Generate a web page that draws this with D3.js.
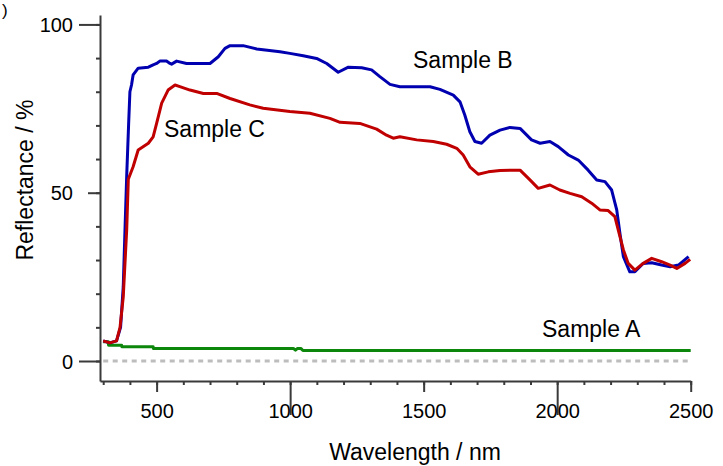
<!DOCTYPE html>
<html>
<head>
<meta charset="utf-8">
<script src="https://cdn.jsdelivr.net/npm/d3@7"></script>
<style>
  body { margin: 0; background: #fff; }
  svg { display: block; font-family: "Liberation Sans", Arial, sans-serif; }
</style>
</head>
<body>
<svg id="chart" width="723" height="466"></svg>
<script>
// Sample B (blue)
const wlB = [300, 325, 350, 365, 375, 382, 388, 395, 400, 406, 412, 431, 469, 487, 500, 512, 537, 550, 556, 575, 612, 650, 700, 731, 756, 775, 824, 875, 962, 999, 1049, 1099, 1137, 1180, 1218, 1268, 1305, 1336, 1374, 1411, 1524, 1561, 1611, 1636, 1654, 1673, 1692, 1717, 1748, 1786, 1823, 1861, 1904, 1936, 1973, 2004, 2042, 2079, 2116, 2148, 2179, 2204, 2223, 2235, 2248, 2272, 2291, 2322, 2354, 2391, 2423, 2454, 2492];
const rB = [6.0, 5.4, 6.0, 10, 22, 40, 55, 70, 80, 82, 85, 87, 87.3, 88, 88.4, 89.1, 89.1, 88.4, 88.2, 89.1, 88.4, 88.4, 88.4, 90.4, 92.9, 93.7, 93.7, 92.7, 91.9, 91.4, 90.7, 89.9, 88.4, 85.8, 87.3, 87.1, 86.5, 84.5, 82.2, 81.5, 81.5, 80.7, 79, 77, 73.1, 68.1, 65.2, 64.7, 67.1, 68.6, 69.4, 69.1, 65.7, 64.7, 65.2, 63.7, 61.2, 59.7, 56.7, 53.8, 53.3, 50.8, 44.9, 37.9, 31, 26.5, 26.5, 29, 29.2, 28.5, 28, 28.5, 31];

// Sample C (red)
const wlC = [300, 325, 350, 363, 375, 388, 394, 412, 431, 469, 487, 500, 519, 543, 569, 587, 625, 675, 725, 775, 849, 899, 999, 1074, 1149, 1187, 1261, 1324, 1361, 1386, 1411, 1474, 1536, 1586, 1624, 1648, 1673, 1704, 1742, 1786, 1861, 1898, 1929, 1973, 2010, 2048, 2092, 2129, 2160, 2191, 2216, 2232, 2248, 2266, 2291, 2322, 2354, 2391, 2423, 2448, 2479, 2498];
const rC = [6.0, 5.4, 6.0, 10, 19, 39, 54, 57.7, 62.7, 64.7, 66.6, 70.6, 76.6, 80.5, 82, 81.5, 80.5, 79.5, 79.5, 78, 76.1, 75.1, 74.1, 73.6, 72.1, 70.9, 70.6, 68.9, 67.1, 66.2, 66.6, 65.7, 65.2, 64.4, 63.2, 61.2, 57.7, 55.5, 56.2, 56.6, 56.7, 53.8, 51.3, 52.3, 50.8, 49.8, 48.8, 46.9, 44.9, 44.7, 42.9, 37.9, 33, 29, 27, 29, 30.5, 29.5, 28.5, 27.5, 29, 30.2];

// Sample A (green)
const wlA = [300, 319, 320, 369, 370, 487, 488, 1012, 1020, 1028, 1040, 1048, 2500];
const rA = [5.7, 5.7, 4.7, 4.7, 4.2, 4.2, 3.75, 3.75, 3.2, 3.75, 3.75, 3.1, 3.1];

const xMajor = [500, 1000, 1500, 2000, 2500];
const xLong = [1000, 2000];
const yMajor = [0, 50, 100];
const yLong = [0, 100];

const labels = [
  { text: "Sample B", x: 413, y: 68 },
  { text: "Sample C", x: 164, y: 137 },
  { text: "Sample A", x: 542, y: 337 }
];

const svg = d3.select("#chart");
const axisColor = "#3a3a3a";

const x = d3.scaleLinear().domain([288, 2500]).range([100, 690.7]);
const y = d3.scaleLinear().domain([-5.94, 102.8]).range([381, 15]);

// zero reference
svg.append("line")
  .attr("x1", x(300)).attr("x2", x(2500))
  .attr("y1", y(0)).attr("y2", y(0))
  .attr("stroke", "#bdbdbd")
  .attr("stroke-width", 3)
  .attr("stroke-dasharray", "5,4.5");

const line = d3.line().x((d) => x(d[0])).y((d) => y(d[1]));

const series = [
  { wl: wlA, r: rA, color: "#0c870c" },
  { wl: wlB, r: rB, color: "#0000b0" },
  { wl: wlC, r: rC, color: "#c00000" }
];

series.forEach((s) => {
  svg.append("path")
    .datum(s.wl.map((w, i) => [w, s.r[i]]))
    .attr("fill", "none")
    .attr("stroke", s.color)
    .attr("stroke-width", 3)
    .attr("stroke-linejoin", "round")
    .attr("d", line);
});

// x axis: minor ticks
const gx = svg.append("g").attr("transform", `translate(0,${y.range()[0]})`);
gx.call(d3.axisBottom(x).tickValues(d3.range(300, 2501, 100)).tickSize(4).tickFormat("").tickSizeOuter(0));
// x axis: major ticks
const gx2 = svg.append("g").attr("transform", `translate(0,${y.range()[0]})`);
gx2.call(d3.axisBottom(x).tickValues(xMajor).tickSize(11).tickSizeOuter(0).tickFormat(d3.format("d")));
gx2.select(".domain").remove();
gx2.selectAll(".tick line").attr("y2", (d) => (xLong.includes(d) ? 34 : 11));
gx2.selectAll(".tick text").attr("y", 37).attr("dy", 0).attr("font-size", 20).attr("fill", "#000");

// y axis: minor ticks
const gy = svg.append("g").attr("transform", `translate(${x.range()[0]},0)`);
gy.call(d3.axisLeft(y).tickValues(d3.range(0, 101, 10)).tickSize(4).tickFormat("").tickSizeOuter(0));
// y axis: major ticks
const gy2 = svg.append("g").attr("transform", `translate(${x.range()[0]},0)`);
gy2.call(d3.axisLeft(y).tickValues(yMajor).tickSize(12).tickSizeOuter(0));
gy2.select(".domain").remove();
gy2.selectAll(".tick line").attr("x2", (d) => (yLong.includes(d) ? -21 : -12));
gy2.selectAll(".tick text").attr("x", -27).attr("dy", "0.36em").attr("font-size", 20).attr("fill", "#000");

svg.selectAll(".domain, .tick line").attr("stroke", axisColor).attr("stroke-width", 2);

// titles
svg.append("text")
  .attr("x", 415).attr("y", 460)
  .attr("text-anchor", "middle")
  .attr("font-size", 23)
  .text("Wavelength / nm");

svg.append("text")
  .attr("transform", "translate(33,180) rotate(-90)")
  .attr("text-anchor", "middle")
  .attr("font-size", 23)
  .text("Reflectance / %");

// panel mark (only its closing bracket is visible in the source)
svg.append("text")
  .attr("x", 2).attr("y", 16)
  .attr("font-size", 17)
  .text(")");

svg.selectAll(".sample")
  .data(labels)
  .enter()
  .append("text")
  .attr("class", "sample")
  .attr("x", (d) => d.x)
  .attr("y", (d) => d.y)
  .attr("font-size", 23)
  .text((d) => d.text);
</script>
</body>
</html>
